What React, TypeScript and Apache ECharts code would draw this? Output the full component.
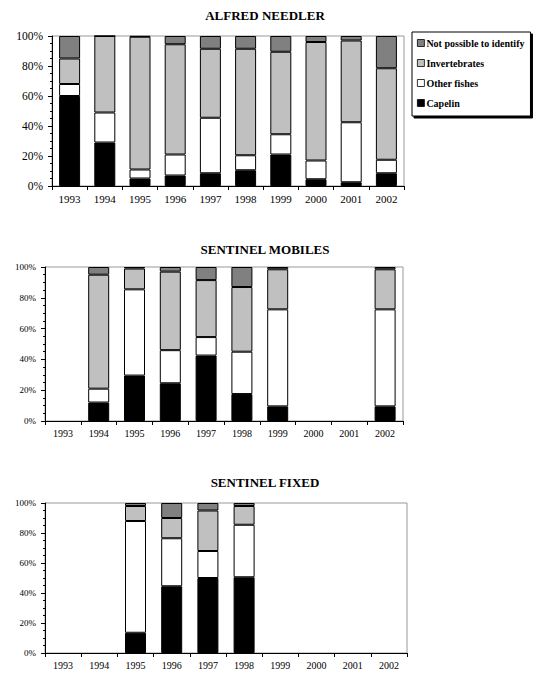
import React, { useEffect, useRef } from "react";
import * as echarts from "echarts";

const years = ["1993", "1994", "1995", "1996", "1997", "1998", "1999", "2000", "2001", "2002"];
const seriesNames = ["Capelin", "Other fishes", "Invertebrates", "Not possible to identify"];
const legendOrder = ["Not possible to identify", "Invertebrates", "Other fishes", "Capelin"];
const chartTitles = ["ALFRED NEEDLER", "SENTINEL MOBILES", "SENTINEL FIXED"];

// ALFRED NEEDLER
const needlerCapelin = [60, 29, 5, 7, 8.5, 10.5, 21, 4.5, 2.5, 8.5];
const needlerOther = [8, 20, 6, 14, 37, 10, 13.5, 12.5, 40, 9];
const needlerInvert = [17, 51, 88.5, 73.5, 46, 71, 55, 79, 54.5, 61];
const needlerNPI = [15, 0, 0.5, 5.5, 8.5, 8.5, 10.5, 4, 3, 21.5];

// SENTINEL MOBILES
const mobileCapelin = [null, 12, 29.5, 24.5, 42.5, 17.5, 9.5, null, null, 9.5];
const mobileOther = [null, 9, 56, 21.5, 12, 27.5, 63, null, null, 63];
const mobileInvert = [null, 74, 13.5, 51, 37, 42, 26, null, null, 26];
const mobileNPI = [null, 5, 1, 3, 8.5, 13, 1.5, null, null, 1.5];

// SENTINEL FIXED
const fixedCapelin = [null, null, 13.5, 44.5, 50, 50.5, null, null, null, null];
const fixedOther = [null, null, 74.5, 32, 18, 35, null, null, null, null];
const fixedInvert = [null, null, 10, 13.5, 27, 12.5, null, null, null, null];
const fixedNPI = [null, null, 2, 10, 5, 2, null, null, null, null];

const colors = ["#000000", "#ffffff", "#c0c0c0", "#808080"];
const FONT = "Liberation Serif";

export default function App() {
  const ref = useRef<HTMLDivElement>(null);
  useEffect(() => {
    if (!ref.current) return;
    const chart = echarts.init(ref.current, null, { renderer: "svg" });
    const grids = [
      { left: 52, top: 36, width: 352, height: 150 },
      { left: 45, top: 267, width: 358, height: 154 },
      { left: 45, top: 503, width: 362, height: 150 },
    ];
    const yLabelSize = [11.5, 9, 9];
    const xLabelSize = [11, 10, 10];
    const data = [
      [needlerCapelin, needlerOther, needlerInvert, needlerNPI],
      [mobileCapelin, mobileOther, mobileInvert, mobileNPI],
      [fixedCapelin, fixedOther, fixedInvert, fixedNPI],
    ];
    const titleY = [15, 249, 482];

    const series: any[] = [];
    data.forEach((group, gi) => {
      group.forEach((vals, si) => {
        series.push({
          type: "bar",
          name: seriesNames[si],
          stack: "s" + gi,
          xAxisIndex: gi,
          yAxisIndex: gi,
          data: vals,
          barWidth: 21,
          itemStyle: { color: colors[si], borderColor: "#000", borderWidth: 1 },
          emphasis: { disabled: true },
        });
      });
    });

    chart.setOption({
      animation: false,
      textStyle: { fontFamily: FONT },
      grid: grids.map((g) => ({
        ...g,
        show: true,
        borderColor: "#999",
        borderWidth: 1,
        backgroundColor: "transparent",
      })),
      xAxis: grids.map((_, i) => ({
        type: "category",
        gridIndex: i,
        data: years,
        axisLine: { lineStyle: { color: "#000", width: 1 } },
        axisTick: { show: true, length: 4, lineStyle: { color: "#000" } },
        axisLabel: { color: "#000", fontFamily: FONT, fontSize: xLabelSize[i], margin: 7 },
      })),
      yAxis: grids.map((_, i) => ({
        type: "value",
        gridIndex: i,
        min: 0,
        max: 100,
        interval: 20,
        axisLine: { show: true, lineStyle: { color: "#000", width: 1 } },
        axisTick: { show: true, length: 4, lineStyle: { color: "#000" } },
        minorTick: { show: true, splitNumber: 4, length: 2, lineStyle: { color: "#000" } },
        splitLine: { show: false },
        axisLabel: {
          color: "#000",
          fontFamily: FONT,
          fontSize: yLabelSize[i],
          margin: 9,
          formatter: "{value}%",
        },
      })),
      legend: {
        orient: "vertical",
        left: 412,
        top: 32,
        data: legendOrder,
        selectedMode: false,
        icon: "rect",
        itemWidth: 7,
        itemHeight: 7,
        itemGap: 10,
        padding: [6, 6, 8, 5],
        backgroundColor: "#fff",
        borderColor: "#000",
        borderWidth: 1,
        shadowColor: "#000",
        shadowBlur: 0,
        shadowOffsetX: 2,
        shadowOffsetY: 2,
        itemStyle: { borderColor: "#000", borderWidth: 0.8 },
        textStyle: { fontFamily: FONT, fontWeight: "bold", fontSize: 10, color: "#000", padding: [0, 0, 0, -3] },
      },
      graphic: chartTitles.map((t, i) => ({
        type: "text",
        x: 265,
        y: titleY[i],
        style: {
          text: t,
          fontFamily: FONT,
          fontWeight: "bold",
          fontSize: 13,
          fill: "#000",
          align: "center",
          verticalAlign: "middle",
        },
      })),
      series,
    });
    return () => chart.dispose();
  }, []);
  return (
    <div
      ref={ref}
      style={{ position: "absolute", left: 0, top: 0, width: 539, height: 675, background: "#fff" }}
    />
  );
}
